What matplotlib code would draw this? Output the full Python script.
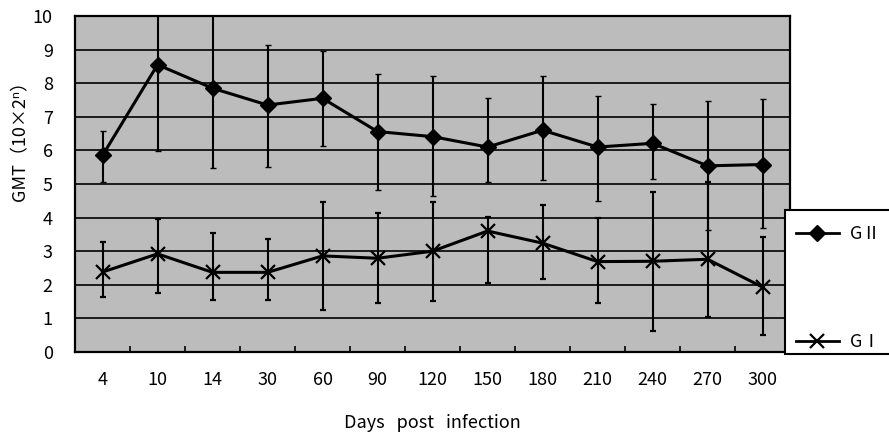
import numpy as np
import matplotlib
matplotlib.use("Agg")
import matplotlib.pyplot as plt
from matplotlib.ticker import FixedLocator
from matplotlib.lines import Line2D
from matplotlib.patches import Rectangle

plt.rcParams['font.family'] = ['Noto Sans CJK KR', 'DejaVu Sans']

# data
days = ['4', '10', '14', '30', '60', '90', '120', '150', '180', '210', '240', '270', '300']

g2_mean = [5.85, 8.55, 7.85, 7.35, 7.55, 6.56, 6.41, 6.10, 6.60, 6.10, 6.21, 5.54, 5.58]
g2_low = [5.06, 5.98, 5.47, 5.50, 6.14, 4.82, 4.64, 5.06, 5.12, 4.50, 5.14, 3.63, 3.69]
g2_high = [6.57, 10.3, 10.3, 9.14, 8.95, 8.26, 8.20, 7.57, 8.22, 7.63, 7.38, 7.46, 7.52]

g1_mean = [2.38, 2.92, 2.37, 2.37, 2.86, 2.79, 3.00, 3.60, 3.24, 2.69, 2.70, 2.76, 1.93]
g1_low = [1.63, 1.77, 1.55, 1.55, 1.25, 1.45, 1.53, 2.06, 2.17, 1.45, 0.63, 1.05, 0.50]
g1_high = [3.28, 3.96, 3.53, 3.36, 4.45, 4.13, 4.45, 4.02, 4.37, 4.00, 4.77, 5.06, 3.42]


fig = plt.figure(figsize=(8.89, 4.36), dpi=100)
ax = fig.add_axes([0.0844, 0.1927, 0.8043, 0.7706])
ax.set_facecolor('#bcbcbc')

x = np.arange(len(days))

def draw(mean, low, high, marker, ms, mew):
    mean = np.array(mean)
    yerr = [mean - np.array(low), np.array(high) - mean]
    ax.errorbar(x, mean, yerr=yerr, color='black', lw=2.2, marker=marker,
                ms=ms, mew=mew, elinewidth=1.5, capsize=2.5, capthick=1.5,
                zorder=3)

draw(g2_mean, g2_low, g2_high, 'D', 8.5, 1)
draw(g1_mean, g1_low, g1_high, 'x', 10, 1.6)

ax.set_xlim(-0.5, len(days) - 0.5)
ax.set_ylim(0, 10)
ax.set_yticks(range(0, 11))
ax.yaxis.grid(True, color='black', lw=1.2)
ax.set_axisbelow(True)
ax.tick_params(axis='y', length=0, labelsize=13, pad=16)

ax.set_xticks(x)
ax.set_xticklabels(days)
ax.xaxis.set_minor_locator(FixedLocator(np.arange(0.5, len(days) - 1, 1)))
ax.tick_params(axis='x', which='major', length=0, labelsize=13, pad=14)
ax.tick_params(axis='x', which='minor', direction='in', length=4, width=1.2)

for s in ax.spines.values():
    s.set_linewidth(1.6)
    s.set_color('black')

ax.set_xlabel('Days   post   infection', fontsize=13)
ax.xaxis.set_label_coords(0.5, -0.185)
ax.set_ylabel('GMT（10×2ⁿ）', fontsize=13)
ax.yaxis.set_label_coords(-0.064, 0.64)

# legend box runs off the right edge in the reference
fig.patches.append(Rectangle((785 / 889, 1 - 354 / 436), 0.2, 144 / 436,
                             transform=fig.transFigure, facecolor='white',
                             edgecolor='black', lw=1.5, zorder=4))
handles = [Line2D([], [], color='black', lw=2, marker='D', ms=8),
           Line2D([], [], color='black', lw=2, marker='x', ms=10, mew=1.6)]
leg = fig.legend(handles, ['GⅡ', 'GⅠ'], loc='upper left',
                 bbox_to_anchor=(0.891, 0.492), frameon=False,
                 fontsize=13, labelspacing=5.0, handlelength=2.4,
                 handletextpad=0.6, borderpad=0.2, borderaxespad=0)
leg.set_zorder(5)

fig.savefig('out.png', dpi=100)
